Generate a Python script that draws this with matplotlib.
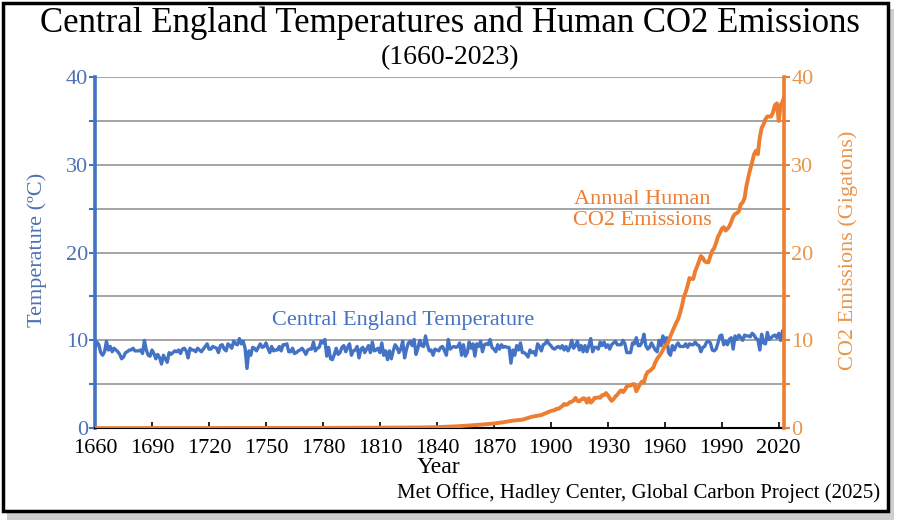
import matplotlib
matplotlib.use('Agg')
import matplotlib.pyplot as plt
from matplotlib.patches import Rectangle
import numpy as np

plt.rcParams['font.family'] = ['Liberation Serif', 'DejaVu Serif']

# Central England annual mean temperature, 1660-2023 (deg C), one row per decade
cet_start = 1660
cet = [
    9.1, 9.8, 9.5, 8.6, 8.3, 8.7, 9.9, 8.9, 9.3, 8.7,
    9.1, 8.9, 8.7, 8.4, 7.9, 8.1, 8.6, 8.7, 8.9, 8.9,
    9.1, 8.8, 8.8, 8.8, 8.9, 8.5, 10.0, 8.9, 8.3, 8.2,
    8.9, 8.5, 7.9, 8.4, 8.0, 7.3, 8.3, 7.9, 7.5, 8.6,
    8.4, 8.6, 8.8, 8.7, 8.9, 8.5, 9.0, 9.1, 8.8, 8.0,
    9.1, 8.9, 8.9, 8.7, 9.1, 8.9, 8.7, 9.0, 9.3, 9.6,
    9.0, 9.0, 9.3, 9.2, 9.1, 8.6, 9.4, 9.5, 9.0, 8.8,
    9.6, 9.4, 9.1, 9.9, 9.6, 9.5, 10.2, 9.6, 9.9, 9.1,
    6.8, 8.8, 8.3, 9.2, 9.1, 8.8, 9.2, 9.6, 9.2, 9.3,
    9.7, 9.1, 8.6, 9.3, 8.8, 8.9, 8.9, 9.3, 8.8, 9.5,
    9.5, 9.6, 8.7, 8.7, 9.1, 8.5, 8.6, 8.8, 8.9, 9.1,
    8.8, 8.4, 8.9, 9.0, 9.0, 9.8, 8.8, 9.1, 9.2, 9.9,
    9.7, 10.1, 8.2, 9.2, 7.9, 7.8, 8.4, 9.1, 8.4, 8.6,
    9.2, 9.4, 8.7, 9.2, 9.6, 8.3, 8.8, 8.9, 9.3, 8.0,
    9.0, 9.2, 8.6, 9.0, 9.4, 8.6, 9.8, 8.8, 8.9, 9.1,
    8.6, 9.7, 8.3, 8.8, 7.8, 8.8, 7.9, 8.8, 9.5, 9.2,
    8.6, 9.0, 9.9, 8.0, 9.0, 9.7, 9.9, 9.4, 10.1, 8.4,
    9.1, 10.0, 9.4, 9.3, 10.5, 9.5, 8.8, 8.9, 8.3, 9.0,
    8.9, 8.8, 9.2, 9.3, 8.8, 8.3, 10.1, 9.0, 9.2, 9.3,
    9.2, 9.3, 9.7, 8.3, 9.5, 8.2, 8.6, 9.8, 9.1, 9.6,
    8.2, 9.6, 9.3, 9.9, 8.7, 9.5, 9.6, 9.5, 10.1, 9.2,
    9.0, 8.7, 9.5, 9.0, 9.5, 9.2, 9.3, 9.2, 9.2, 7.4,
    8.9, 8.3, 9.4, 8.9, 9.7, 8.6, 8.6, 8.4, 8.1, 8.9,
    8.6, 8.7, 8.3, 9.6, 9.3, 8.8, 9.5, 9.6, 10.0, 9.6,
    9.4, 9.1, 9.0, 9.2, 9.3, 9.1, 9.4, 8.9, 9.3, 8.8,
    9.2, 10.0, 9.1, 9.4, 9.9, 8.9, 9.4, 8.7, 9.4, 8.7,
    9.4, 10.2, 8.7, 9.2, 9.2, 9.0, 9.8, 9.4, 9.8, 9.2,
    9.5, 9.0, 9.5, 9.7, 9.9, 9.5, 9.5, 9.5, 10.0, 9.6,
    8.6, 8.6, 8.6, 9.7, 9.6, 10.3, 9.4, 9.4, 9.8, 10.7,
    9.4, 9.0, 9.2, 9.7, 9.3, 8.9, 8.7, 10.0, 9.4, 10.5,
    9.7, 10.3, 8.6, 8.3, 9.4, 8.9, 9.4, 9.7, 9.3, 9.3,
    9.3, 9.6, 9.2, 9.6, 9.5, 9.5, 9.8, 9.5, 9.4, 8.7,
    9.2, 9.3, 9.8, 9.9, 9.7, 8.9, 8.8, 9.0, 9.7, 10.5,
    10.6, 9.5, 9.9, 9.5, 10.1, 10.3, 9.0, 10.5, 10.1, 10.6,
    10.3, 10.0, 10.6, 10.5, 10.5, 10.4, 10.8, 10.6, 10.2, 10.1,
    8.9, 10.7, 9.7, 9.6, 10.9, 10.1, 10.3, 10.5, 10.6, 10.3,
    10.8, 10.0, 11.1, 10.9,
]
cet_years = np.arange(cet_start, cet_start + len(cet))

# Annual human CO2 emissions (gigatons)
co2_years = [1660, 1750, 1760, 1770, 1780, 1790, 1800, 1810, 1820, 1830, 1840,
             1850, 1855, 1860, 1865, 1870, 1875, 1880, 1885, 1890, 1895,
             1900, 1901, 1902, 1903, 1904, 1905, 1906, 1907, 1908, 1909,
             1910, 1911, 1912, 1913, 1914, 1915, 1916, 1917, 1918, 1919,
             1920, 1921, 1922, 1923, 1924, 1925, 1926, 1927, 1928, 1929,
             1930, 1931, 1932, 1933, 1934, 1935, 1936, 1937, 1938, 1939,
             1940, 1941, 1942, 1943, 1944, 1945, 1946, 1947, 1948, 1949,
             1950, 1951, 1952, 1953, 1954, 1955, 1956, 1957, 1958, 1959,
             1960, 1961, 1962, 1963, 1964, 1965, 1966, 1967, 1968, 1969,
             1970, 1971, 1972, 1973, 1974, 1975, 1976, 1977, 1978, 1979,
             1980, 1981, 1982, 1983, 1984, 1985, 1986, 1987, 1988, 1989,
             1990, 1991, 1992, 1993, 1994, 1995, 1996, 1997, 1998, 1999,
             2000, 2001, 2002, 2003, 2004, 2005, 2006, 2007, 2008, 2009,
             2010, 2011, 2012, 2013, 2014, 2015, 2016, 2017, 2018, 2019,
             2020, 2021, 2022, 2023]
co2 = [0.0, 0.01, 0.01, 0.02, 0.02, 0.03, 0.03, 0.04, 0.05, 0.07, 0.11,
       0.20, 0.27, 0.34, 0.43, 0.52, 0.67, 0.85, 0.96, 1.29, 1.49,
       1.95, 2.0, 2.05, 2.2, 2.2, 2.35, 2.5, 2.75, 2.65, 2.75,
       2.95, 3.0, 3.15, 3.45, 3.1, 3.05, 3.25, 3.4, 3.35, 2.9,
       3.4, 2.9, 3.1, 3.45, 3.45, 3.5, 3.45, 3.75, 3.75, 4.0,
       3.75, 3.4, 3.1, 3.3, 3.6, 3.8, 4.1, 4.3, 4.1, 4.35,
       4.75, 4.85, 4.85, 5.0, 5.0, 4.2, 4.6, 5.0, 5.3, 5.2,
       6.0, 6.4, 6.5, 6.7, 6.9, 7.5, 7.9, 8.2, 8.5, 8.9,
       9.4, 9.5, 9.9, 10.5, 11.0, 11.5, 12.0, 12.4, 13.1, 13.9,
       14.9, 15.5, 16.2, 17.1, 17.0, 17.0, 17.9, 18.4, 19.0, 19.6,
       19.4, 19.0, 18.9, 18.9, 19.6, 20.2, 20.5, 21.1, 21.8, 22.2,
       22.7, 22.9, 22.5, 22.7, 23.0, 23.5, 24.1, 24.4, 24.5, 24.7,
       25.5, 25.7, 26.2, 27.6, 28.6, 29.5, 30.3, 31.2, 31.6, 31.2,
       33.1, 34.2, 34.6, 35.2, 35.5, 35.5, 35.5, 36.0, 36.8, 37.0,
       35.0, 36.8, 37.2, 37.8]

xticks = list(range(1660, 2021, 30))

blue = '#4472C4'
orange = '#ED7D31'
blue_txt = '#4F71B3'
orange_txt = '#E8964A'

fig = plt.figure(figsize=(9, 5.24), dpi=100)
ax = fig.add_axes([0.1056, 0.183, 0.766, 0.670])
ax2 = ax.twinx()

ax.plot(cet_years, cet, color=blue, lw=2.4, zorder=3)
ax2.plot(co2_years, co2, color=orange, lw=2.8, zorder=3)

for a in (ax, ax2):
    a.set_xlim(1660, 2023)
    a.set_ylim(0, 40)
    a.set_yticks([0, 10, 20, 30, 40])
    a.set_yticks([5, 15, 25, 35], minor=True)
    a.spines['top'].set_visible(False)

ax.grid(True, which='both', axis='y', color='#8c8c8c', lw=1.1, zorder=0)
ax.set_axisbelow(True)

ax.spines['left'].set_color(blue)
ax.spines['left'].set_linewidth(2.6)
ax.spines['right'].set_visible(False)
ax.spines['bottom'].set_color('black')
ax.spines['bottom'].set_linewidth(1.5)
ax2.spines['left'].set_visible(False)
ax2.spines['bottom'].set_visible(False)
ax2.spines['right'].set_color(orange)
ax2.spines['right'].set_linewidth(2.6)

ax.set_xticks(xticks)
ax.tick_params(axis='x', direction='in', length=4, width=1.2, labelsize=16, pad=8)
ax.tick_params(axis='y', which='both', direction='out', length=4, width=1.5, color=blue,
               labelcolor=blue_txt, labelsize=16, pad=1)
ax2.tick_params(axis='y', which='both', direction='out', length=4, width=1.5, color=orange,
                labelcolor=orange_txt, labelsize=16, pad=1)

ax.text(1822, 12.3, 'Central England Temperature', color=blue, fontsize=16,
        ha='center', va='center')
ax2.text(1948, 24.8, 'Annual Human\nCO2 Emissions', color=orange, fontsize=16,
         ha='center', va='center', linespacing=1.15)

fig.text(0.5, 0.956, 'Central England Temperatures and Human CO2 Emissions',
         ha='center', va='center', fontsize=25)
fig.text(0.5, 0.891, '(1660-2023)', ha='center', va='center', fontsize=20)
fig.text(0.041, 0.523, 'Temperature (ºC)', rotation=90, ha='center', va='center',
         fontsize=16, color=blue_txt)
fig.text(0.942, 0.523, 'CO2 Emissions (Gigatons)', rotation=90, ha='center', va='center',
         fontsize=16, color=orange_txt)
fig.text(0.487, 0.107, 'Year', ha='center', va='center', fontsize=17)
fig.text(0.978, 0.059, 'Met Office, Hadley Center, Global Carbon Project (2025)',
         ha='right', va='center', fontsize=15)

# shadowed frame around the whole picture
fig.patches.append(Rectangle((0.008, 0.008), 0.985, 0.975, transform=fig.transFigure,
                             facecolor='#cfcfcf', edgecolor='none', zorder=-2))
fig.patches.append(Rectangle((0.003, 0.025), 0.984, 0.969, transform=fig.transFigure,
                             facecolor='white', edgecolor='black', lw=2.5, zorder=-1))

fig.savefig('out.png', dpi=100)
